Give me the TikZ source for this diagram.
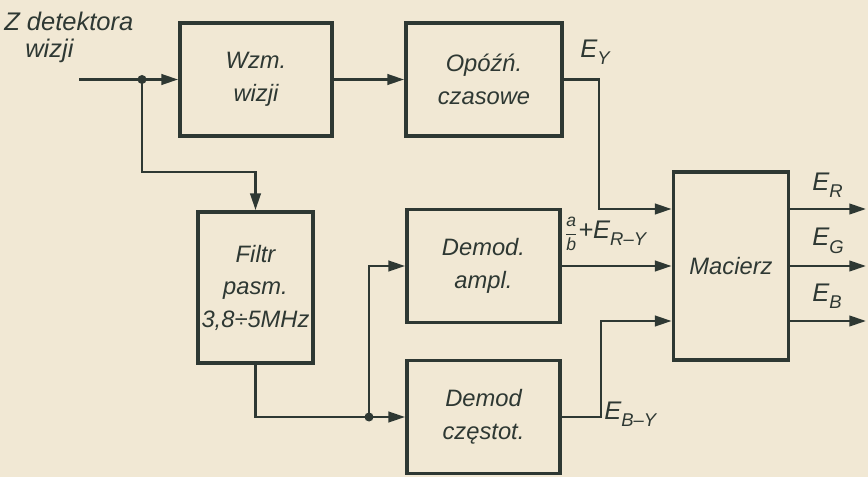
\documentclass[tikz,border=0pt]{standalone}
\usepackage{amsmath}
\usepackage{fontspec}
\setmainfont{Liberation Sans}
\usepackage{tikz}
\usetikzlibrary{arrows.meta, positioning, calc}
\definecolor{paper}{HTML}{F1E8D4}
\definecolor{ink}{HTML}{2E3833}
\newcommand{\idx}[1]{\raisebox{-0.55ex}{\fontsize{10.5}{10.5}\selectfont #1}}
\tikzset{
  blok/.style={draw=ink, line width=2.2pt, align=center, inner sep=0pt, text=ink,
    font=\fontsize{13.5}{18.5}\selectfont\itshape},
  sig/.style={draw=ink, line width=1.4pt},
  sigarr/.style={sig, -{Triangle[length=9.5pt,width=6pt]}},
  lbl/.style={text=ink, inner sep=0pt, font=\fontsize{14.5}{17}\selectfont\itshape},
}

\begin{document}
\begin{tikzpicture}[x=0.2mm, y=-0.2mm]
  \fill[paper] (0,0) rectangle (868,477);
  \useasboundingbox (0,0) rectangle (868,477);
  % Blocks
  \node[blok, minimum width=30.4mm, minimum height=22.6mm] (wzm) at (256,79.5) {Wzm.\\wizji};
  \node[blok, minimum width=31.2mm, minimum height=22.6mm] (opoz) at (484,79.5) {Opóźń.\\czasowe};
  \node[blok, minimum width=23mm, minimum height=30.2mm] (filtr) at (255.5,287.5) {Filtr\\pasm.\\3,8÷5MHz};
  \node[blok, minimum width=30.6mm, minimum height=22.6mm] (ampl) at (483.5,266) {Demod.\\ampl.};
  \node[blok, minimum width=30.6mm, minimum height=22.6mm] (czest) at (483.5,417) {Demod\\częstot.};
  \node[blok, minimum width=23mm, minimum height=37.6mm] (mac) at (731,266) {Macierz};
  % Input and branch to the filter
  \coordinate (in) at (79,79.5);
  \coordinate (j1) at (142,79.5);
  \coordinate (k1) at (142,172);
  \draw[sigarr] (in) -- (wzm.west);
  \fill[ink] (j1) circle (0.9mm);
  \draw[sigarr] (j1) -- (k1) -| (filtr.north);
  \draw[sigarr] (wzm.east) -- (opoz.west);
  % Filter to demodulators
  \coordinate (j2) at (369,417);
  \draw[sigarr] (filtr.south) |- (czest.west);
  \draw[sigarr] (j2) |- (ampl.west);
  \fill[ink] (j2) circle (0.9mm);
  % Into the matrix
  \coordinate (ey) at (599,209);
  \coordinate (eby) at (601,321);
  \draw[sigarr] (opoz.east) -| (ey) -- (ey -| mac.west);
  \draw[sigarr] (ampl.east) -- (ampl.east -| mac.west);
  \draw[sigarr] (czest.east) -| (eby) -- (eby -| mac.west);
  % Outputs
  \foreach \n/\y in {R/209, G/266, B/321} {
    \coordinate (out\n) at (866,\y);
    \draw[sigarr] (mac.east |- out\n) -- (out\n);
  }
  % Labels
  \node[lbl, anchor=west] (src1) at (4,21) {Z detektora};
  \node[lbl, anchor=west] (src2) at (25,51) {wizji};
  \node[lbl, anchor=west] (lEY) at (580,52) {E\idx{Y}};
  \node[lbl, anchor=west] (lRY) at (564,234) {{\fontsize{10}{10}\selectfont$\dfrac{\text{a}}{\text{b}}$}+E\idx{R–Y}};
  \node[lbl, anchor=west] (lBY) at (604,414) {E\idx{B–Y}};
  \node[lbl, anchor=west] (lR) at (812,185) {E\idx{R}};
  \node[lbl, anchor=west] (lG) at (812,241) {E\idx{G}};
  \node[lbl, anchor=west] (lB) at (812,296) {E\idx{B}};
\end{tikzpicture}
\end{document}
